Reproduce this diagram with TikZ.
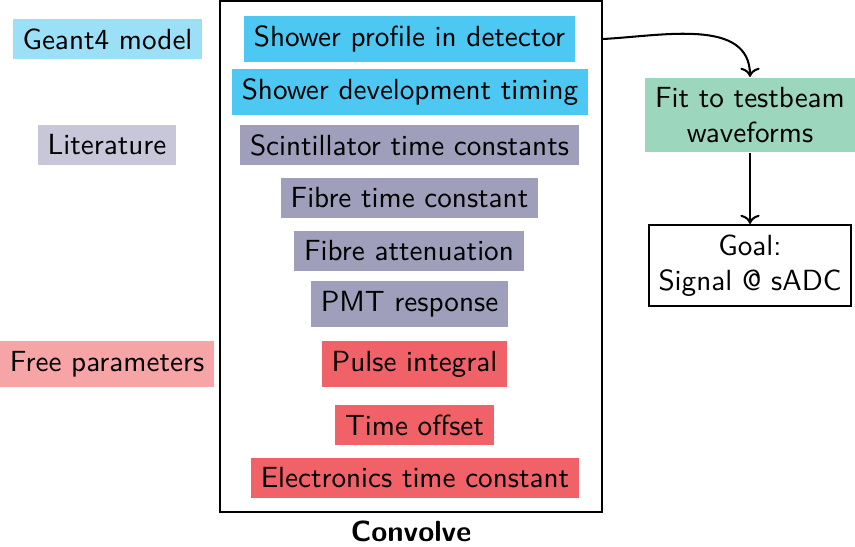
\documentclass[tikz,border=0pt]{standalone}
\usetikzlibrary{arrows.meta}
\definecolor{geantL}{HTML}{9CE0F7}
\definecolor{geantD}{HTML}{4CC8F2}
\definecolor{litL}{HTML}{C8C7D9}
\definecolor{litD}{HTML}{9F9EBB}
\definecolor{freeL}{HTML}{F7A4A7}
\definecolor{freeD}{HTML}{F06267}
\definecolor{fitG}{HTML}{9BD6BD}
\tikzset{
  box/.style={inner sep=0.3333em, align=center},
  conn/.style={line width=0.7pt, ->},
}
\begin{document}
\begin{tikzpicture}[x=0.343pt, y=-0.343pt, font=\sffamily]
\useasboundingbox (0,0) rectangle (855,546);
% convolution box
\node[draw, line width=0.7pt, minimum width=382*0.343pt, minimum height=511*0.343pt, inner sep=0pt] (conv) at (411,256.5) {};
\node[font=\sffamily\bfseries, anchor=north] (convlbl) at (411,511) {Convolve};
% category labels
\node[box, fill=geantL] (geant) at (107.5,39) {Geant4 model};
\node[box, fill=litL] (lit) at (107,145) {Literature};
\node[box, fill=freeL] (free) at (107,364) {Free parameters};
% inner items
\node[box, fill=geantD] (sp) at (409.5,39) {Shower profile in detector};
\node[box, fill=geantD] (sd) at (410,92) {Shower development timing};
\node[box, fill=litD] (sc) at (409.5,145) {Scintillator time constants};
\node[box, fill=litD] (ft) at (409.5,198) {Fibre time constant};
\node[box, fill=litD] (fa) at (409,251) {Fibre attenuation};
\node[box, fill=litD] (pmt) at (409.5,304) {PMT response};
\node[box, fill=freeD] (pi) at (414.5,364) {Pulse integral};
\node[box, fill=freeD] (to) at (414.5,425) {Time offset};
\node[box, fill=freeD] (el) at (415,478) {Electronics time constant};
% right side
\node[box, fill=fitG] (fit) at (750,115) {Fit to testbeam\\waveforms};
\node[box, draw, line width=0.7pt] (goal) at (750,265.5) {Goal:\\Signal @ sADC};
\coordinate (start) at (conv.east |- sp);
\draw[conn] (start) to[out=3, in=90] (fit.north);
\draw[conn] (fit.south) -- (goal.north);
\end{tikzpicture}
\end{document}
